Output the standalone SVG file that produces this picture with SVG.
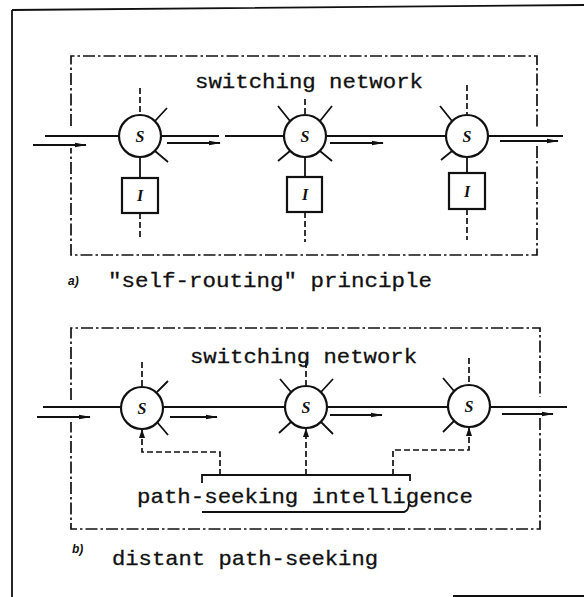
<svg xmlns="http://www.w3.org/2000/svg" width="584" height="597" viewBox="0 0 584 597">
<defs>
<style>
.ln{stroke:#111;stroke-width:1.8;fill:none}
.dd{stroke:#111;stroke-width:1.7;fill:none;stroke-dasharray:12 3 2.5 3}
.ds{stroke:#111;stroke-width:1.7;fill:none;stroke-dasharray:6 3}
.circ{stroke:#111;stroke-width:2.2;fill:#fff}
.sq{stroke:#111;stroke-width:2.2;fill:#fff}
.tx{font-family:"Liberation Mono","DejaVu Sans Mono",monospace;font-size:21px;fill:#111;stroke:#111;stroke-width:0.3}
.lbl{font-family:"Liberation Serif",serif;font-style:italic;font-weight:bold;font-size:16px;fill:#111}
.sm{font-family:"Liberation Sans",sans-serif;font-style:italic;font-weight:bold;font-size:12px;fill:#111}
</style>
<marker id="ah" markerWidth="12" markerHeight="6" refX="11" refY="3" orient="auto" markerUnits="userSpaceOnUse">
<path d="M0,0.8 L12,3 L0,5.2 Z" fill="#111" stroke="none"/>
</marker>
<marker id="au" markerWidth="9" markerHeight="6" refX="8" refY="3" orient="auto" markerUnits="userSpaceOnUse">
<path d="M0,0 L9,3 L0,6 Z" fill="#111" stroke="none"/>
</marker>
</defs>
<rect width="584" height="597" fill="#fff"/>

<g id="frame">
<path class="ln" d="M12,10 V597 M12,10 L584,5 M453,596 H584"/>
</g>

<g id="boxA">
<path class="dd" d="M71,126 V56 H537 V128 M537,146 V255 H71 V148"/>
</g>
<g id="boxB">
<path class="dd" d="M71,400 V328 H540 V397 M540,418 V529 H71 V422"/>
</g>

<g id="connectors">
<path class="ln" d="M45,136 H119 M161,136 H219 M225,136 H284 M326,136 H446 M488,136 H563"/>
<path class="ln" marker-end="url(#ah)" d="M33,145 H86"/>
<path class="ln" marker-end="url(#ah)" d="M167,143 H220"/>
<path class="ln" marker-end="url(#ah)" d="M330,143 H383"/>
<path class="ln" marker-end="url(#ah)" d="M500,141 H558"/>
<path class="ln" d="M43,407 H121 M163,407 H285 M327,407 H448 M490,407 H567"/>
<path class="ln" marker-end="url(#ah)" d="M37,417 H90"/>
<path class="ln" marker-end="url(#ah)" d="M170,417 H217"/>
<path class="ln" marker-end="url(#ah)" d="M330,415 H382"/>
<path class="ln" marker-end="url(#ah)" d="M502,414 H553"/>
<path class="ds" marker-end="url(#au)" d="M220,475 V452 H142 V430"/>
<path class="ds" marker-end="url(#au)" d="M306,475 V429"/>
<path class="ds" marker-end="url(#au)" d="M393,475 V450 H469 V428"/>
</g>

<g id="switchA1">
<path class="ds" d="M140,88 V114"/>
<path class="ln" d="M155,121 L167,108 M155,151 L168,162 M140,157 V178"/>
<circle class="circ" cx="140" cy="136" r="21"/>
<text class="lbl" x="140" y="142" text-anchor="middle">S</text>
</g>
<g id="intelA1">
<rect class="sq" x="122" y="178" width="36" height="35"/>
<text class="lbl" x="140" y="201" text-anchor="middle">I</text>
<path class="ds" d="M140,213 V238"/>
</g>

<g id="switchA2">
<path class="ds" d="M305,99 V114"/>
<path class="ln" d="M290,121 L278,106 M320,121 L332,106 M290,151 L278,161 M320,151 L332,161 M305,157 V177"/>
<circle class="circ" cx="305" cy="136" r="21"/>
<text class="lbl" x="305" y="142" text-anchor="middle">S</text>
</g>
<g id="intelA2">
<rect class="sq" x="287" y="177" width="35" height="35"/>
<text class="lbl" x="305" y="200" text-anchor="middle">I</text>
<path class="ds" d="M305,212 V242"/>
</g>

<g id="switchA3">
<path class="ds" d="M467,85 V114"/>
<path class="ln" d="M452,121 L440,106 M452,151 L441,160 M467,157 V173"/>
<circle class="circ" cx="467" cy="136" r="21"/>
<text class="lbl" x="467" y="142" text-anchor="middle">S</text>
</g>
<g id="intelA3">
<rect class="sq" x="449" y="173" width="36" height="36"/>
<text class="lbl" x="467" y="197" text-anchor="middle">I</text>
<path class="ds" d="M467,209 V240"/>
</g>

<g id="titleA">
<text class="tx" x="195" y="88" textLength="228" lengthAdjust="spacingAndGlyphs">switching network</text>
</g>
<g id="captionA">
<text class="sm" x="68" y="285">a)</text>
<text class="tx" x="108" y="287" textLength="324" lengthAdjust="spacingAndGlyphs">"self-routing" principle</text>
</g>

<g id="switchB1">
<path class="ds" d="M142,362 V386"/>
<path class="ln" d="M157,392 L168,381 M157,422 L168,435"/>
<circle class="circ" cx="142" cy="408" r="21"/>
<text class="lbl" x="142" y="414" text-anchor="middle">S</text>
</g>
<g id="switchB2">
<path class="ds" d="M306,362 V385"/>
<path class="ln" d="M291,392 L280,379 M321,392 L333,379 M291,422 L279,433 M321,422 L333,434"/>
<circle class="circ" cx="306" cy="407" r="21"/>
<text class="lbl" x="306" y="413" text-anchor="middle">S</text>
</g>
<g id="switchB3">
<path class="ds" d="M469,358 V384"/>
<path class="ln" d="M454,391 L443,378 M454,421 L443,432"/>
<circle class="circ" cx="469" cy="406" r="21"/>
<text class="lbl" x="469" y="412" text-anchor="middle">S</text>
</g>

<g id="titleB">
<text class="tx" x="190" y="363" textLength="227" lengthAdjust="spacingAndGlyphs">switching network</text>
</g>

<g id="intelligence">
<path class="ln" stroke-width="2" d="M202,483 V475 H410 V481"/>
<path class="ln" stroke-width="2" d="M202,512 H404 Q409,511 409,502"/>
<text class="tx" x="137" y="503" textLength="336" lengthAdjust="spacingAndGlyphs">path-seeking intelligence</text>
</g>

<g id="captionB">
<text class="sm" x="72" y="553">b)</text>
<text class="tx" x="112" y="565" textLength="266" lengthAdjust="spacingAndGlyphs">distant path-seeking</text>
</g>
</svg>
